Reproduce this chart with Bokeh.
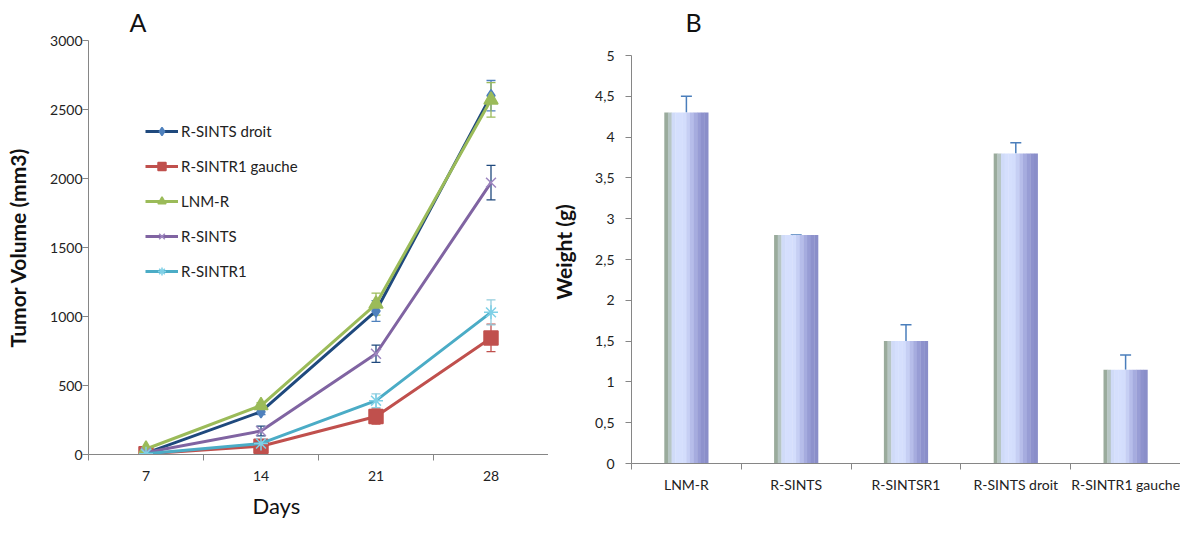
from bokeh.plotting import figure
from bokeh.layouts import row, column
from bokeh.models import (Range1d, FixedTicker, ColumnDataSource, Whisker, Legend,
                          LegendItem, TeeHead, CustomJSTickFormatter, Title)
from bokeh.transform import dodge
from bokeh.embed import file_html
from bokeh.resources import INLINE

# ---------------- data: panel A ----------------
days = ["7", "14", "21", "28"]
droit = [10, 310, 1040, 2600]
droit_err = [0, 20, 75, 110]
gauche = [5, 60, 275, 845]
gauche_err = [0, 15, 55, 100]
lnmr = [40, 355, 1090, 2570]
lnmr_err = [0, 20, 80, 125]
sints = [15, 170, 730, 1970]
sints_err = [0, 35, 63, 125]
sintr1 = [5, 80, 390, 1030]
sintr1_err = [0, 30, 50, 90]

series_names = ["R-SINTS droit", "R-SINTR1 gauche", "LNM-R", "R-SINTS", "R-SINTR1"]

# ---------------- data: panel B ----------------
groups = ["LNM-R", "R-SINTS", "R-SINTSR1", "R-SINTS droit", "R-SINTR1 gauche"]
weights = [4.3, 2.8, 1.5, 3.8, 1.15]
weight_err = [0.2, 0.0, 0.2, 0.13, 0.18]
weight_ticks = [0, 0.5, 1, 1.5, 2, 2.5, 3, 3.5, 4, 4.5, 5]

FONT = "Lato"


def style_axes(p):
    for ax in (p.xaxis[0], p.yaxis[0]):
        ax.axis_line_color = "#868686"
        ax.major_tick_line_color = "#868686"
        ax.minor_tick_line_color = "#868686"
        ax.major_label_text_font = FONT
        ax.major_label_text_font_size = "14px"
        ax.major_label_text_color = "#222222"
        ax.axis_label_text_font = FONT
        ax.axis_label_text_font_size = "21px"
        ax.axis_label_text_font_style = "bold"
        ax.axis_label_text_color = "#111111"
    p.xaxis.major_tick_out = 0
    p.xaxis.major_tick_in = 0
    p.xaxis.minor_tick_out = 6
    p.xaxis.minor_tick_in = 0
    p.yaxis.major_tick_out = 6
    p.yaxis.major_tick_in = 0
    p.yaxis.minor_tick_line_color = None


def panel_title(p, text, offset, standoff):
    p.title.text = text
    p.title.text_font = FONT
    p.title.text_font_size = "25px"
    p.title.text_font_style = "normal"
    p.title.text_color = "#111111"
    p.title.align = "left"
    p.title.offset = offset
    p.title.standoff = standoff


# ================= Panel A =================
pa = figure(width=548, height=533, output_backend="svg", toolbar_location=None,
            x_range=Range1d(0, len(days)), y_range=Range1d(0, 3000),
            min_border_left=88, min_border_right=0, min_border_top=40, min_border_bottom=79)
pa.outline_line_color = None
pa.grid.visible = False
style_axes(pa)
panel_title(pa, "A", 41, 8)

xpos = [i + 0.5 for i in range(len(days))]
pa.xaxis.ticker = FixedTicker(ticks=xpos, minor_ticks=list(range(len(days) + 1)))
pa.xaxis.major_label_overrides = {x: d for x, d in zip(xpos, days)}
pa.xaxis.major_label_standoff = 10
pa.yaxis.ticker = FixedTicker(ticks=[0, 500, 1000, 1500, 2000, 2500, 3000])
pa.yaxis.major_label_standoff = 0
pa.yaxis.axis_label = "Tumor Volume (mm3)"
pa.yaxis.axis_label_standoff = 17

pa.add_layout(Title(text="Days", align="left", offset=164, standoff=13, vertical_align="bottom",
                    text_font=FONT, text_font_size="22px", text_font_style="normal",
                    text_color="#111111"), "below")

vals = [droit, gauche, lnmr, sints, sintr1]
errs = [droit_err, gauche_err, lnmr_err, sints_err, sintr1_err]
colors = ["#1F497D", "#C0504D", "#9BBB59", "#8064A2", "#4BACC6"]
err_colors = ["#4F81BD", "#C0504D", "#9BBB59", "#1F497D", "#93CDDD"]
markers = ["diamond", "square", "triangle", "x", "asterisk"]
msizes = [12, 14, 14, 14, 14]
mfill = ["#4F81BD", "#C0504D", "#9BBB59", "#8064A2", "#4BACC6"]
mline = ["#4F81BD", "#C0504D", "#9BBB59", "#9e87c0", "#7fd0e6"]

items = []
for name, v, e, c, ec, m, ms, mf, ml in zip(series_names, vals, errs, colors, err_colors,
                                             markers, msizes, mfill, mline):
    src = ColumnDataSource(dict(x=xpos, y=v,
                                upper=[a + b for a, b in zip(v, e)],
                                lower=[a - b for a, b in zip(v, e)]))
    ln = pa.line("x", "y", source=src, line_color=c, line_width=3)
    sc = pa.scatter("x", "y", source=src, marker=m, size=ms, fill_color=mf,
                    line_color=ml, line_width=1.5)
    w = Whisker(base="x", upper="upper", lower="lower", source=src, line_color=ec, line_width=1.3,
                upper_head=TeeHead(size=9, line_color=ec, line_width=1.3),
                lower_head=TeeHead(size=9, line_color=ec, line_width=1.3))
    pa.add_layout(w)
    items.append(LegendItem(label=name, renderers=[ln, sc]))

leg = Legend(items=items, location=(57, 173), padding=0, margin=0, spacing=15,
             label_height=20, glyph_height=20, glyph_width=33, label_standoff=3,
             border_line_color=None, background_fill_alpha=0,
             label_text_font=FONT, label_text_font_size="15px", label_text_color="#222222")
pa.add_layout(leg)

# ================= Panel B =================
# frame spans 423 px; the 0..5 scale occupies the lower 408 px of it
b_top = weight_ticks[-1] * 423 / 408
pb = figure(width=632, height=533, output_backend="svg", toolbar_location=None,
            x_range=Range1d(0, len(groups)), y_range=Range1d(0, b_top),
            min_border_left=82, min_border_right=0, min_border_top=40, min_border_bottom=70)
pb.outline_line_color = None
pb.grid.visible = False
style_axes(pb)
panel_title(pb, "B", 54, 8)

gpos = [i + 0.5 for i in range(len(groups))]
pb.xaxis.ticker = FixedTicker(ticks=gpos, minor_ticks=list(range(len(groups) + 1)))
pb.xaxis.major_label_overrides = {x: g for x, g in zip(gpos, groups)}
pb.xaxis.major_label_standoff = 6
pb.yaxis.ticker = FixedTicker(ticks=weight_ticks)
pb.yaxis.bounds = (weight_ticks[0], weight_ticks[-1])
pb.yaxis.formatter = CustomJSTickFormatter(code="return String(tick).replace('.', ',');")
pb.yaxis.major_label_standoff = 11
pb.yaxis.axis_label = "Weight (g)"
pb.yaxis.axis_label_standoff = 16

bsrc = ColumnDataSource(dict(x=gpos, top=weights,
                             upper=[a + b for a, b in zip(weights, weight_err)]))
bar_w = 0.4
grad = ["#9aab9c", "#b7c6c4", "#d0dbf8", "#d5dffd", "#d5dffd", "#d3ddfc",
        "#c6cff4", "#b6bdea", "#a6acdf", "#989dd5", "#8e92cd", "#8a8ec9"]
n = len(grad)
sw = bar_w / n
for k, col in enumerate(grad):
    off = -bar_w / 2 + sw * (k + 0.5)
    pb.vbar(x=dodge("x", off, range=pb.x_range), top="top", bottom=0, width=sw * 1.08,
            source=bsrc, fill_color=col, line_color=None)

wb = Whisker(base="x", upper="upper", lower="top", source=bsrc, line_color="#4a7ebb",
             line_width=1.5, upper_head=TeeHead(size=11, line_color="#4a7ebb", line_width=1.5),
             lower_head=None)
pb.add_layout(wb)

layout = row(column(pa), column(pb))
open("out.html", "w").write(file_html(layout, INLINE))
